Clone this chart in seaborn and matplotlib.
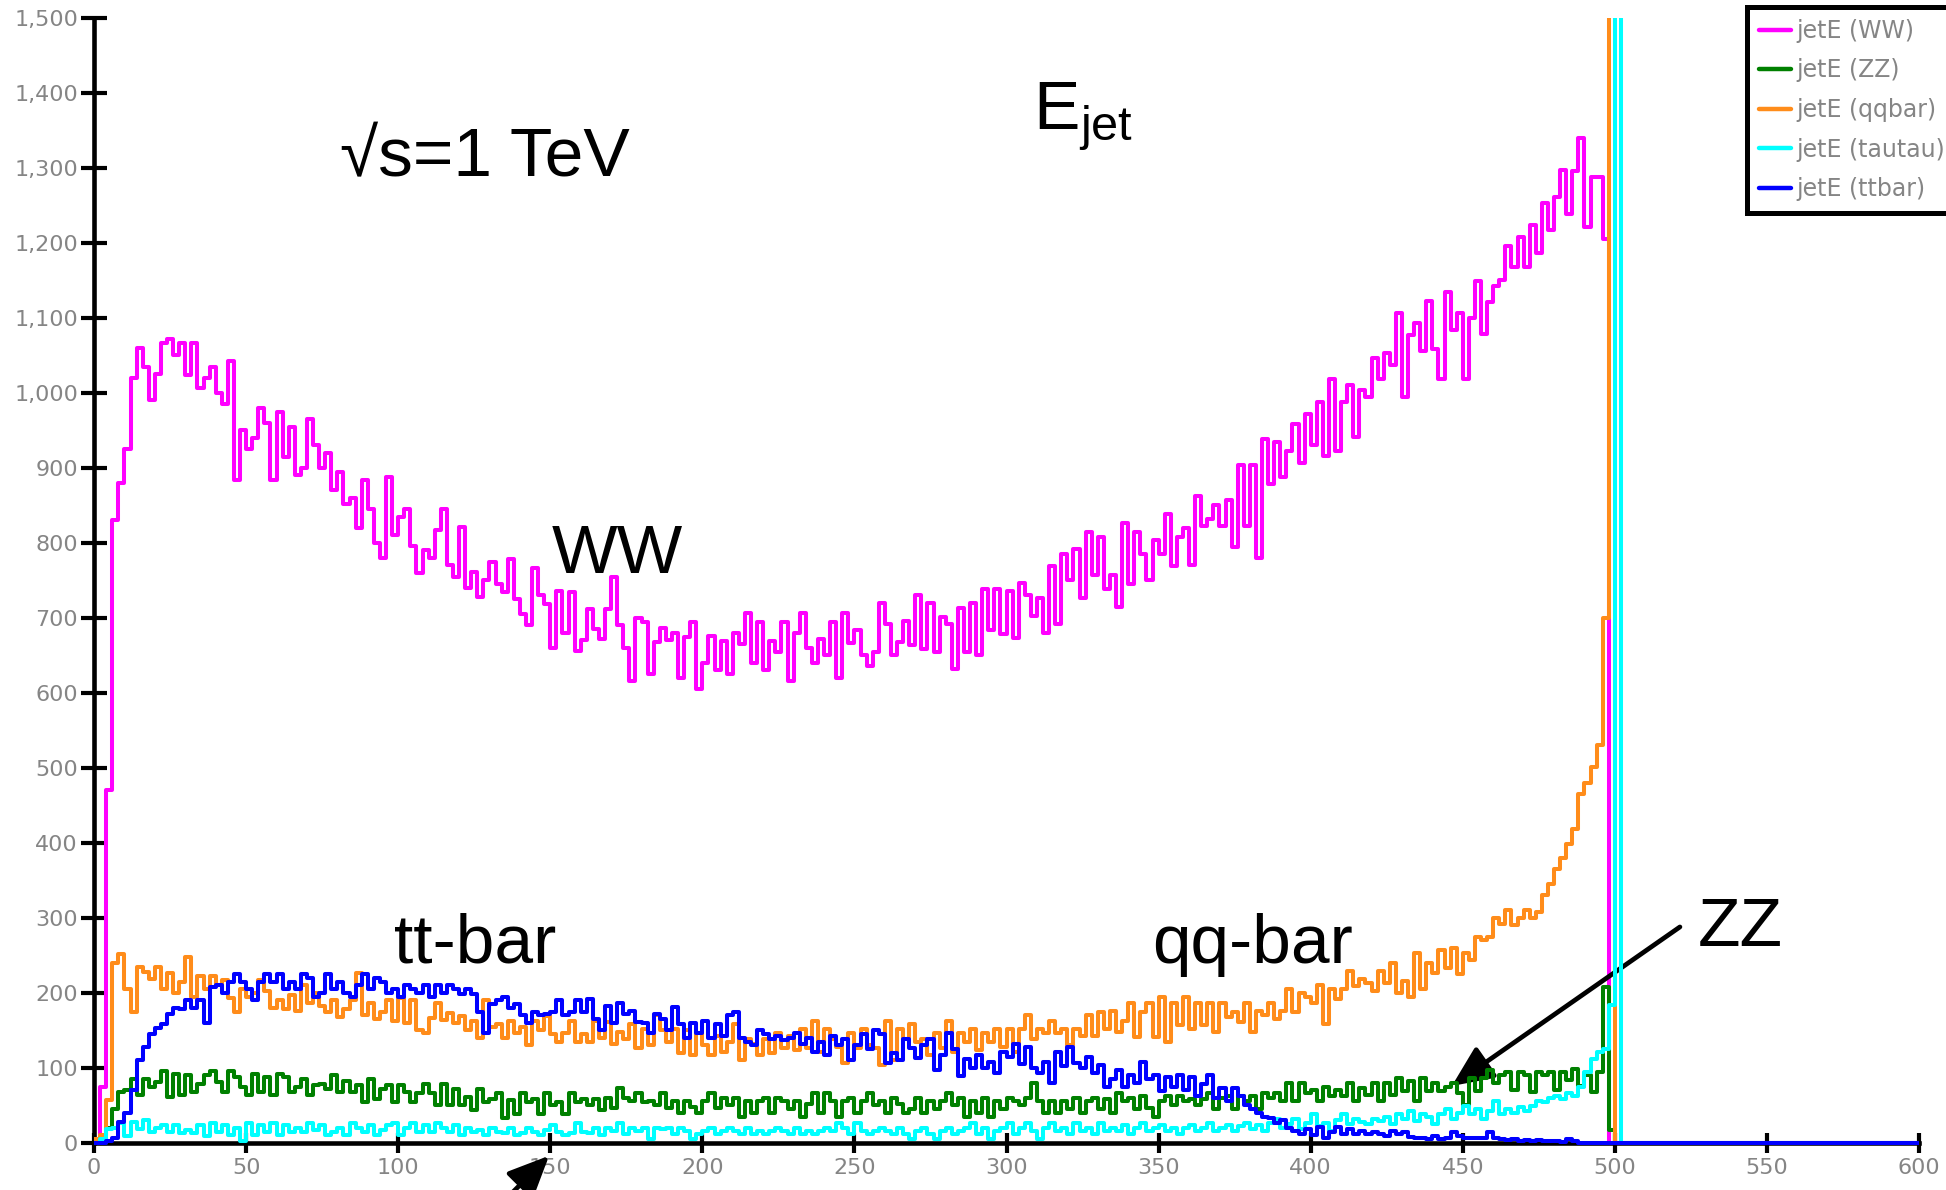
import matplotlib
matplotlib.use("Agg")
import matplotlib.pyplot as plt
from matplotlib.lines import Line2D
from matplotlib.patches import Rectangle
from matplotlib.ticker import MultipleLocator, FuncFormatter
import seaborn as sns

# Jet energy histograms at sqrt(s) = 1 TeV: 2 GeV bins up to 502 GeV, then one empty bin to 600 GeV
bin_edges = list(range(0, 504, 2)) + [600]

samples = ["WW", "ZZ", "qqbar", "tautau", "ttbar"]
colors = ["#ff00ff", "#008000", "#ff8c1a", "#00ffff", "#0000ff"]

ww = [
    0, 75, 470, 830, 880, 925, 1020, 1060, 1035, 990,
    1025, 1066, 1072, 1050, 1066, 1024, 1066, 1006, 1020, 1035,
    1000, 985, 1042, 884, 950, 925, 940, 980, 960, 884,
    975, 915, 955, 890, 900, 965, 930, 900, 920, 870,
    895, 852, 860, 820, 884, 845, 800, 780, 888, 810,
    834, 845, 796, 760, 790, 780, 817, 845, 770, 754,
    821, 740, 761, 728, 750, 774, 745, 735, 778, 725,
    705, 690, 767, 730, 718, 660, 736, 680, 735, 656,
    670, 712, 685, 672, 712, 754, 690, 660, 616, 700,
    695, 625, 668, 687, 670, 680, 620, 675, 694, 605,
    640, 676, 630, 669, 625, 680, 665, 707, 640, 694,
    630, 669, 655, 694, 616, 680, 707, 660, 640, 672,
    650, 694, 620, 707, 667, 684, 650, 636, 654, 720,
    692, 650, 668, 696, 664, 731, 659, 720, 654, 701,
    692, 632, 713, 654, 720, 650, 738, 684, 738, 678,
    736, 673, 747, 730, 703, 727, 680, 769, 692, 785,
    750, 792, 727, 815, 757, 808, 738, 757, 715, 827,
    745, 815, 785, 750, 804, 785, 839, 769, 808, 820,
    770, 862, 822, 832, 850, 822, 857, 794, 904, 822,
    904, 780, 939, 878, 934, 888, 923, 958, 906, 972,
    930, 988, 916, 1018, 923, 988, 1011, 941, 1004, 995,
    1046, 1018, 1053, 1037, 1107, 995, 1077, 1093, 1056, 1123,
    1058, 1018, 1135, 1084, 1107, 1018, 1100, 1149, 1079, 1121,
    1142, 1150, 1196, 1168, 1208, 1168, 1224, 1187, 1253, 1217,
    1261, 1297, 1238, 1296, 1339, 1221, 1288, 1288, 1205, 0,
    0,
]

zz = [
    0, 0, 20, 45, 68, 70, 85, 64, 85, 75,
    81, 96, 61, 92, 64, 90, 68, 79, 90, 96,
    81, 68, 96, 88, 75, 64, 92, 68, 88, 64,
    92, 88, 68, 75, 85, 64, 77, 79, 72, 90,
    68, 83, 68, 77, 55, 85, 59, 72, 77, 55,
    77, 68, 55, 66, 79, 66, 50, 79, 50, 72,
    50, 61, 44, 72, 55, 59, 66, 33, 57, 39,
    66, 55, 59, 39, 66, 50, 55, 39, 66, 55,
    59, 50, 59, 44, 60, 47, 73, 60, 56, 67,
    54, 56, 51, 67, 47, 56, 40, 56, 48, 40,
    56, 67, 47, 60, 51, 60, 34, 56, 40, 56,
    60, 40, 60, 56, 45, 56, 34, 52, 67, 40,
    67, 56, 34, 56, 60, 40, 56, 67, 51, 56,
    40, 60, 52, 40, 45, 60, 40, 56, 45, 56,
    67, 51, 60, 34, 56, 40, 60, 34, 56, 45,
    60, 56, 51, 60, 80, 56, 40, 56, 40, 56,
    45, 60, 40, 56, 60, 45, 58, 40, 67, 56,
    60, 45, 62, 47, 34, 56, 62, 51, 62, 56,
    58, 51, 58, 67, 45, 60, 62, 45, 62, 56,
    62, 45, 67, 60, 67, 56, 80, 56, 80, 67,
    71, 56, 75, 62, 71, 62, 80, 56, 73, 64,
    80, 56, 80, 64, 86, 69, 82, 56, 86, 69,
    80, 69, 75, 80, 67, 51, 86, 69, 86, 97,
    80, 91, 95, 70, 94, 90, 68, 94, 90, 94,
    70, 94, 84, 98, 76, 90, 68, 95, 208, 17,
    0,
]

qqbar = [
    5, 10, 57, 240, 252, 205, 175, 235, 228, 218,
    235, 205, 226, 200, 215, 248, 195, 222, 205, 222,
    210, 217, 193, 175, 205, 195, 200, 217, 203, 180,
    190, 178, 197, 176, 210, 186, 200, 182, 175, 190,
    168, 178, 190, 226, 171, 186, 165, 175, 190, 162,
    193, 160, 190, 150, 147, 166, 186, 164, 173, 160,
    169, 151, 162, 140, 190, 155, 158, 140, 162, 147,
    155, 130, 162, 151, 169, 145, 134, 147, 162, 134,
    145, 134, 162, 140, 161, 132, 148, 139, 159, 126,
    152, 130, 170, 150, 135, 152, 120, 150, 117, 146,
    130, 117, 143, 121, 135, 159, 111, 139, 132, 117,
    139, 120, 146, 126, 143, 124, 152, 126, 163, 121,
    152, 139, 128, 106, 146, 126, 152, 130, 126, 104,
    163, 111, 152, 139, 159, 135, 139, 117, 146, 126,
    163, 121, 146, 135, 152, 124, 146, 135, 152, 128,
    152, 121, 152, 170, 139, 152, 146, 163, 146, 152,
    130, 152, 143, 170, 143, 174, 152, 176, 148, 163,
    187, 141, 174, 187, 141, 194, 135, 187, 157, 194,
    152, 187, 157, 187, 148, 187, 168, 174, 161, 187,
    148, 176, 170, 187, 165, 176, 205, 174, 200, 194,
    187, 211, 159, 205, 192, 205, 229, 209, 218, 213,
    203, 229, 213, 240, 200, 216, 194, 253, 205, 240,
    227, 257, 233, 260, 225, 253, 244, 275, 270, 275,
    300, 292, 310, 290, 300, 310, 300, 308, 330, 345,
    365, 380, 399, 419, 465, 480, 501, 531, 700, 6000,
    0,
]

tautau = [
    0, 5, 18, 20, 26, 9, 28, 18, 31, 15,
    20, 24, 15, 24, 13, 17, 13, 24, 9, 26,
    15, 24, 11, 20, 2, 26, 11, 24, 15, 26,
    11, 24, 15, 20, 15, 26, 17, 24, 11, 15,
    20, 11, 26, 20, 15, 24, 11, 17, 24, 26,
    11, 20, 26, 15, 24, 15, 26, 20, 15, 24,
    11, 20, 15, 17, 11, 20, 15, 13, 20, 11,
    13, 20, 15, 11, 17, 24, 15, 11, 13, 26,
    15, 13, 20, 11, 20, 16, 27, 12, 20, 16,
    20, 5, 20, 18, 20, 12, 20, 16, 5, 12,
    16, 20, 12, 16, 20, 16, 12, 20, 12, 16,
    12, 16, 20, 16, 12, 20, 12, 16, 12, 16,
    20, 16, 27, 20, 12, 27, 16, 12, 16, 20,
    16, 12, 20, 12, 5, 16, 20, 12, 5, 16,
    20, 12, 16, 20, 27, 12, 20, 5, 16, 20,
    27, 12, 20, 27, 16, 5, 20, 27, 16, 20,
    12, 27, 16, 20, 12, 27, 16, 20, 16, 24,
    12, 20, 27, 16, 20, 24, 16, 20, 12, 20,
    24, 16, 20, 27, 16, 20, 24, 16, 22, 27,
    18, 24, 16, 27, 32, 20, 25, 32, 18, 27,
    38, 22, 27, 16, 30, 38, 25, 32, 28, 25,
    32, 29, 35, 25, 38, 32, 42, 29, 38, 35,
    25, 38, 45, 32, 40, 49, 38, 45, 32, 42,
    56, 38, 45, 40, 48, 43, 49, 56, 54, 60,
    62, 58, 66, 62, 75, 95, 112, 121, 125, 184,
    6000,
]

ttbar = [
    0, 0, 3, 7, 28, 40, 70, 110, 128, 145,
    153, 158, 172, 180, 178, 190, 180, 190, 160, 208,
    210, 200, 215, 225, 215, 205, 190, 215, 225, 215,
    225, 205, 215, 205, 225, 220, 195, 200, 225, 205,
    215, 200, 195, 210, 225, 205, 220, 215, 200, 205,
    195, 210, 205, 200, 210, 195, 210, 200, 210, 205,
    198, 205, 198, 175, 147, 185, 190, 195, 180, 185,
    170, 160, 175, 170, 172, 175, 190, 170, 175, 190,
    175, 192, 165, 150, 183, 160, 187, 172, 176, 161,
    160, 146, 172, 165, 150, 181, 159, 140, 160, 146,
    163, 140, 158, 143, 170, 174, 140, 135, 130, 150,
    145, 139, 143, 137, 140, 146, 132, 140, 121, 134,
    117, 142, 130, 139, 111, 130, 145, 125, 150, 145,
    106, 120, 110, 139, 126, 113, 130, 139, 97, 117,
    146, 125, 89, 112, 100, 117, 100, 108, 93, 121,
    115, 132, 105, 128, 100, 93, 108, 80, 121, 102,
    128, 106, 100, 115, 93, 104, 75, 85, 97, 75,
    91, 80, 108, 85, 91, 69, 88, 75, 91, 70,
    88, 62, 78, 91, 60, 73, 56, 73, 62, 50,
    45, 40, 34, 33, 27, 30, 20, 16, 12, 18,
    10, 21, 7, 14, 21, 12, 18, 12, 16, 12,
    14, 12, 9, 16, 12, 14, 8, 6, 7, 5,
    9, 5, 7, 14, 9, 7, 7, 6, 7, 14,
    7, 5, 4, 5, 3, 4, 3, 4, 3, 2,
    3, 1, 5, 2, 0, 0, 0, 0, 0, 0,
    0,
]

series = [ww, zz, qqbar, tautau, ttbar]

sns.set_theme(style="white")
plt.rcParams["font.family"] = ["Liberation Sans", "DejaVu Sans"]
plt.rcParams["text.color"] = "black"
plt.rcParams["mathtext.fontset"] = "custom"
plt.rcParams["mathtext.rm"] = "Liberation Sans"

W, H = 1946, 1190
fig = plt.figure(figsize=(W / 100, H / 100), dpi=100)
ax = fig.add_axes([94 / W, 1 - 1143 / H, (1919 - 94) / W, (1143 - 17.7) / H])

centers = [(a + b) / 2 for a, b in zip(bin_edges[:-1], bin_edges[1:])]
for k, (vals, col) in enumerate(zip(series, colors)):
    sns.histplot(x=centers, weights=vals + [0], bins=bin_edges, element="step",
                 fill=False, color=col, linewidth=2.9, zorder=3 + k, ax=ax)

# clip the histogram lines at the top of the frame but let them cover the x axis
clip_rect = Rectangle((0, -0.02), 1, 1.02, transform=ax.transAxes)
for line in ax.lines:
    line.set_clip_path(clip_rect)

ax.set_xlim(0, 600)
ax.set_ylim(0, 1500)
ax.set_xlabel("")
ax.set_ylabel("")
ax.xaxis.set_major_locator(MultipleLocator(50))
ax.yaxis.set_major_locator(MultipleLocator(100))
ax.yaxis.set_major_formatter(FuncFormatter(lambda v, p: f"{int(v):,}"))

for side in ["top", "right"]:
    ax.spines[side].set_visible(False)
for side in ["left", "bottom"]:
    ax.spines[side].set_color("black")
    ax.spines[side].set_linewidth(3.3)

ax.tick_params(axis="both", which="major", direction="inout", width=3, color="black",
               labelcolor="#858585", labelsize=16, bottom=True, left=True)
ax.tick_params(axis="y", length=19, pad=2)
ax.tick_params(axis="x", length=15, pad=3.5)
for lab in ax.get_xticklabels() + ax.get_yticklabels():
    lab.set_family("DejaVu Sans")

# annotations
big = 50
txt = dict(fontsize=big, ha="left", va="baseline", color="black")
ax.text(81, 1289, "√s=1 TeV", **txt)
ax.text(308.7, 1351, r"$\mathrm{E}_{\mathrm{jet}}$", **txt)
ax.text(150.6, 760, "WW", **txt)
ax.text(98.5, 240, "tt-bar", **txt)
ax.text(348, 240, "qq-bar", **txt)
ax.text(527.3, 263, "ZZ", **txt)

arrow_style = dict(arrowstyle="-|>,head_length=0.6,head_width=0.27", color="black",
                   lw=3.4, mutation_scale=42, shrinkA=0, shrinkB=0)
ax.annotate("", xy=(446.4, 76), xytext=(521.4, 288), arrowprops=arrow_style,
            annotation_clip=False)
ax.annotate("", xy=(149.6, -17), xytext=(123.6, -123), arrowprops=arrow_style,
            annotation_clip=False)

# legend box in the upper right corner
handles = [Line2D([], [], color=c, lw=3.2) for c in colors]
labels = [f"jetE ({s})" for s in samples]
leg = fig.legend(handles, labels, loc="lower left",
                 bbox_to_anchor=(1747 / W, 1 - 213 / H), bbox_transform=fig.transFigure,
                 frameon=True, fancybox=False, framealpha=1, edgecolor="black",
                 prop={"family": "DejaVu Sans", "size": 17},
                 handlelength=1.36, handletextpad=0.25, labelspacing=0.66,
                 borderpad=0.5, borderaxespad=0)
leg.get_frame().set_linewidth(3.6)
for t in leg.get_texts():
    t.set_color("#858585")

fig.savefig("out.png", dpi=100)
